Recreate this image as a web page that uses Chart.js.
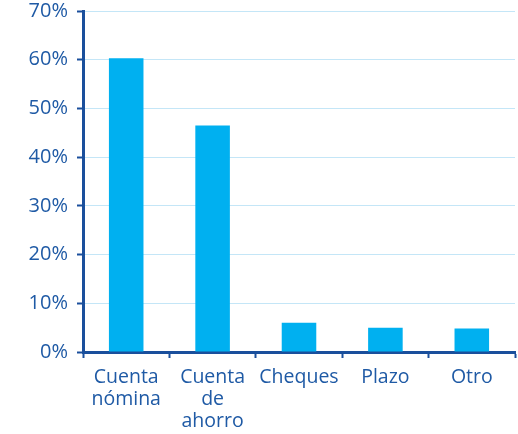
<!DOCTYPE html>
<html>
<head>
<meta charset="utf-8">
<script src="https://cdn.jsdelivr.net/npm/chart.js@4"></script>
<style>
  html, body { margin: 0; padding: 0; background: #fff; }
  #wrap { width: 518px; height: 434px; }
</style>
</head>
<body>
<div id="wrap"><canvas id="productChart" width="518" height="434"></canvas></div>
<script>
const categories = [['Cuenta', 'nómina'], ['Cuenta', 'de', 'ahorro'], 'Cheques', 'Plazo', 'Otro'];
const shares = [60.3, 46.5, 6.0, 5.0, 4.8];
const yTicks = [0, 10, 20, 30, 40, 50, 60, 70];

const axisBlue = '#1a4f9c';
const textBlue = '#1f5aa5';

const ctx = document.querySelector('#productChart').getContext('2d');
const chart = new Chart(ctx, {
  type: 'bar',
  data: {
    labels: categories,
    datasets: [{
      data: shares,
      backgroundColor: '#00b0f0',
      barPercentage: 0.4,
      categoryPercentage: 1
    }]
  },
  options: {
    responsive: false,
    animation: false,
    layout: { padding: { top: 11, right: 3 } },
    plugins: { legend: { display: false }, tooltip: { enabled: false } },
    scales: {
      x: {
        grid: { display: true, drawOnChartArea: false, tickLength: 6, tickColor: axisBlue, tickWidth: 2, offset: true },
        border: { color: axisBlue, width: 3 },
        ticks: { color: textBlue, font: { family: 'Open Sans', size: 19.5, lineHeight: 1.13 }, maxRotation: 0, padding: 8 },
        afterFit: s => { s.height = 82; s.paddingLeft = 0; s.paddingRight = 0; }
      },
      y: {
        min: 0,
        max: 70,
        afterBuildTicks: s => { s.ticks = yTicks.map(v => ({ value: v })); },
        grid: { color: '#c4e6f7', lineWidth: 1, tickLength: 6, tickColor: axisBlue, tickWidth: 2 },
        border: { color: axisBlue, width: 3 },
        ticks: { color: textBlue, font: { family: 'Open Sans', size: 20 }, padding: 9, callback: v => v + '%' },
        afterFit: s => { s.width = 83; s.paddingTop = 0; s.paddingBottom = 0; }
      }
    }
  }
});
</script>
</body>
</html>
